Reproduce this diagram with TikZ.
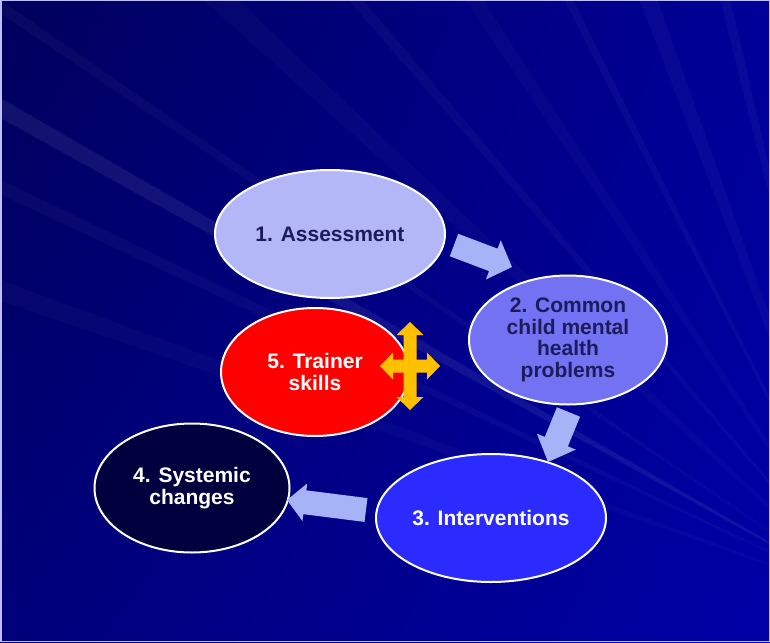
\documentclass[tikz,border=0pt]{standalone}
\usepackage{fontspec}
\setmainfont{Liberation Sans}
\usetikzlibrary{shapes.geometric,calc,shadings}
\definecolor{bgul}{HTML}{00005C}
\definecolor{bgur}{HTML}{000098}
\definecolor{bgll}{HTML}{00007A}
\definecolor{bglr}{HTML}{0000A6}
\definecolor{cassess}{HTML}{B3B6F7}
\definecolor{ccommon}{HTML}{7272F2}
\definecolor{ctrainer}{HTML}{FF0000}
\definecolor{csystem}{HTML}{00003E}
\definecolor{cinterv}{HTML}{2B2BFF}
\definecolor{darktext}{HTML}{1C1C5C}
\definecolor{arrowcol}{HTML}{A6B3F7}
\definecolor{crosscol}{HTML}{FFC000}
\newcommand\blockarr[5]{%
  \coordinate (fab) at ($(#2)!#5!(#1)$);
  \fill[arrowfill] ($(#1)!#3!90:(#2)$) -- ($(fab)!#3!-90:(#1)$) -- ($(fab)!#4!-90:(#1)$) -- (#2)
    -- ($(fab)!#4!90:(#1)$) -- ($(fab)!#3!90:(#1)$) -- ($(#1)!#3!-90:(#2)$) -- cycle;}
\begin{document}
\begin{tikzpicture}[x=1pt,y=-1pt,
  ell/.style={ellipse, draw=white, line width=2pt, inner sep=0pt, align=center,
    font=\fontsize{21}{21.5}\selectfont\bfseries},
  arrowfill/.style={fill=arrowcol},
  crossfill/.style={fill=crosscol},
  ray/.style={fill=white}]
\useasboundingbox (0,0) rectangle (770,642);
% background
\shade[upper left=bgul, upper right=bgur, lower left=bgll, lower right=bglr] (0,0) rectangle (770,642);
\begin{scope}
  \clip (0,0) rectangle (770,642);
  \foreach \a/\d/\o in {199/1.2/0.025, 205/0.8/0.03, 209/1.0/0.07, 214/0.6/0.03,
                        222/1.5/0.025, 229/0.8/0.03, 236/1.2/0.025, 243/0.7/0.035,
                        249/1.5/0.03, 256/0.9/0.035, 262/1.2/0.03, 268/0.8/0.03}
    \fill[ray, opacity=\o] (870,600) -- ++(\a:1400) arc[start angle=\a, delta angle=\d, radius=1400] -- cycle;
\end{scope}
\draw[white!75!blue, line width=1.5pt] (0.75,0.75) rectangle (769.25,641.25);
% ellipses
\node[ell, fill=cassess, text=darktext, minimum width=230pt, minimum height=128pt] (assess) at (330,234) {1. Assessment};
\node[ell, fill=ccommon, text=darktext, minimum width=198pt, minimum height=129pt] (common) at (568,340) {2. Common\\child mental\\health\\problems};
\node[ell, fill=ctrainer, text=white, minimum width=188pt, minimum height=128pt] (trainer) at (315,372) {5. Trainer\\skills};
\node[ell, fill=csystem, text=white, minimum width=195pt, minimum height=129pt] (systemic) at (192,488) {4. Systemic\\changes};
\node[ell, fill=cinterv, text=white, minimum width=230pt, minimum height=128pt] (interv) at (491,518) {3. Interventions};
% block arrows
\coordinate (a1s) at (454,245);   \coordinate (a1e) at (512,267);
\coordinate (a2s) at (568.5,412); \coordinate (a2e) at (548,462);
\coordinate (a3s) at (366,510);   \coordinate (a3e) at (287,500);
\blockarr{a1s}{a1e}{12pt}{21pt}{20pt}
\blockarr{a2s}{a2e}{12.5pt}{21pt}{22pt}
\blockarr{a3s}{a3e}{12pt}{19pt}{18pt}
% four-way cross arrow
\coordinate (crossc) at (410,366);
\fill[crossfill, shift={(crossc)}]
  (0,-44) -- (13.5,-31) -- (6.5,-31) -- (6.5,-6.5) -- (17,-6.5) -- (17,-13.5) -- (30,0)
  -- (17,13.5) -- (17,6.5) -- (6.5,6.5) -- (6.5,31) -- (13.5,31) -- (0,44)
  -- (-13.5,31) -- (-6.5,31) -- (-6.5,6.5) -- (-17,6.5) -- (-17,13.5) -- (-30,0)
  -- (-17,-13.5) -- (-17,-6.5) -- (-6.5,-6.5) -- (-6.5,-31) -- (-13.5,-31) -- cycle;
\end{tikzpicture}
\end{document}
